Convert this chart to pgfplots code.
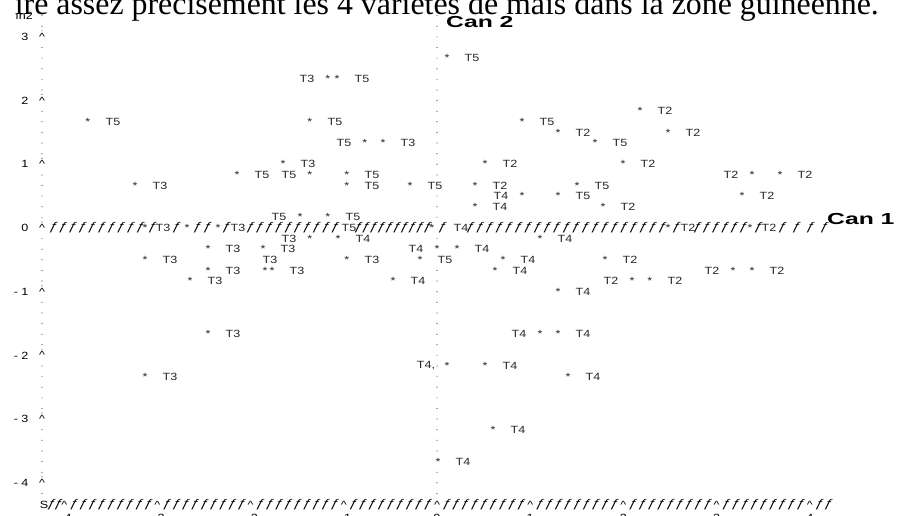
\documentclass[border=0pt]{standalone}
\usepackage{pgfplots}
\pgfplotsset{compat=1.18}
\usepackage{pgfplotstable}
\usepackage{fontspec}
\setmainfont{Liberation Serif}
\newfontfamily\labfam[FakeStretch=1.2]{Liberation Sans}
\newfontfamily\canfam[FakeStretch=1.55]{Liberation Sans}
\newfontfamily\ffam[FakeStretch=1.25,FakeSlant=0.25]{Liberation Sans}
\newcommand\lab{\labfam\fontsize{10.5}{12}\selectfont}
\newcommand\can{\canfam\bfseries\fontsize{16}{18}\selectfont}
\newcommand\fl{\ffam\fontsize{11.5}{12}\selectfont ƒ}

\pgfplotstableread{
x y lab
0.107 2.667 T5
-1.073 2.333 T5
2.178 1.833 T2
-3.745 1.667 T5
-1.363 1.667 T5
0.912 1.667 T5
1.298 1.5 T2
2.479 1.5 T2
-0.579 1.333 T3
1.695 1.333 T5
-1.652 1 T3
0.515 1 T2
1.996 1 T2
-2.146 0.833 T5
-0.966 0.833 T5
3.680 0.833 T2
-3.240 0.667 T3
-0.966 0.667 T5
-0.290 0.667 T5
0.408 0.667 T2
1.502 0.667 T5
1.298 0.5 T5
3.273 0.5 T2
0.408 0.333 T4
1.781 0.333 T2
-1.170 0.167 T5
-1.062 -0.167 T4
1.105 -0.167 T4
-2.457 -0.333 T3
-1.867 -0.333 T3
0.215 -0.333 T4
-3.133 -0.5 T3
-0.966 -0.5 T3
-0.182 -0.5 T5
0.708 -0.5 T4
1.803 -0.5 T2
-2.457 -0.667 T3
-1.770 -0.667 T3
0.622 -0.667 T4
3.380 -0.667 T2
-2.650 -0.833 T3
-0.472 -0.833 T4
2.285 -0.833 T2
1.298 -1 T4
-2.457 -1.667 T3
1.298 -1.667 T4
0.515 -2.167 T4
-3.133 -2.333 T3
1.406 -2.333 T4
0.601 -3.167 T4
0.011 -3.667 T4
}\Rpts

\pgfplotstableread{
x y lab
-1.170 2.333 T3
-0.773 1.333 T5
-1.363 0.833 T5
3.380 0.833 T2
0.912 0.5 T4
-1.470 0.167 T5
-1.363 -0.167 T3
0.000 -0.333 T4
3.176 -0.667 T2
2.092 -0.833 T2
1.105 -1.667 T4
0.107 -2.167 T4,
}\Lpts

\pgfplotstableread{
x y
-1.845 -0.667
-3.133 0
-2.682 0
-2.350 0
-0.054 0
2.479 0
3.358 0
}\Upts

\pgfplotstableread{
x y lab
-2.940 0 T3
-2.135 0 T3
-0.944 0 T5
0.258 0 T4
2.693 0 T2
3.562 0 T2
-1.792 -0.5 T3
}\Opts

\pgfplotsset{
  starplot/.style={only marks, mark=none, nodes near coords={*},
    nodes near coords align={anchor=center},
    every node near coord/.append style={font=\lab, inner sep=0pt, text=black!85}},
  labplot/.style={only marks, mark=none, point meta=explicit symbolic, nodes near coords,
    nodes near coords align={anchor=center},
    every node near coord/.append style={font=\lab, inner sep=0pt, text=black!85, xshift=#1}},
}

\begin{document}
\begin{tikzpicture}
\begin{axis}[
  anchor=south west, at={(41.8bp,10.9bp)},
  x=93.2bp, y=63.7bp,
  xmin=-4.24, xmax=4.2, ymin=-4.35, ymax=3.3,
  axis x line=bottom, axis y line=left,
  axis line style={draw=none},
  tick style={draw=none},
  xtick={-4,...,4}, xticklabels={- 4,- 3,- 2,- 1,0,1,2,3,4},
  ytick={-4,...,3}, yticklabels={- 4,- 3,- 2,- 1,0,1,2,3},
  xticklabel style={font=\lab, anchor=north, inner sep=0pt, yshift=-7bp},
  yticklabel style={font=\lab, anchor=east, inner sep=0pt, xshift=-11bp},
  clip=false,
]
\addplot[starplot] table[x=x,y=y] {\Rpts};
\addplot[starplot] table[x=x,y=y] {\Lpts};
\addplot[starplot] table[x=x,y=y] {\Upts};
\addplot[labplot=25bp] table[x=x,y=y,meta=lab] {\Rpts};
\addplot[labplot=-21bp] table[x=x,y=y,meta=lab] {\Lpts};
\addplot[labplot=0bp] table[x=x,y=y,meta=lab] {\Opts};
\end{axis}

% decorations of the line-printer plot, in pixel coordinates
\begin{scope}[shift={(0bp,516bp)}, x=1bp, y=-1bp]
  % title (cut at the top of the picture)
  \node[anchor=base east, inner sep=0pt] at (879,15)
    {\fontsize{32}{36}\selectfont ire assez précisément les 4 variétés de maïs dans la zone guinéenne.};
  \node[anchor=east, inner sep=0pt] at (33,16) {\lab ın2};
  \node[anchor=west, inner sep=0pt] at (446,22) {\can Can 2};
  \node[anchor=west, inner sep=0pt] at (827,219) {\can Can 1};
  % left axis: dots and carets
  \foreach \k in {-25,...,20}{
    \pgfmathtruncatemacro\m{mod(abs(\k),6)}
    \pgfmathsetmacro\yy{228-10.6167*\k}
    \ifnum\m=0
      \node[inner sep=0pt] at (42,\yy) {\lab\textasciicircum};
      \fill[black!70] (42,\yy-6) circle (0.6);
    \else
      \fill[black!70] (42,\yy) circle (0.6);
    \fi
  }
  % centre axis: dots
  \foreach \k in {-25,-24,-23,-21,-20,...,-4,-1,1,2,3,5,6,...,20}{
    \fill[black!70] (437,{228-10.6167*\k}) circle (0.6);
  }
  % horizontal zero line
  \foreach \i in {0,...,9}{\node[inner sep=0pt] at ({53+9.67*\i},228) {\fl};}
  \foreach \xx in {152,176,197,207,226,442,676,758,782,796,810,824}{\node[inner sep=0pt] at (\xx,228) {\fl};}
  \foreach \i in {0,...,9}{\node[inner sep=0pt] at ({250+9.44*\i},228) {\fl};}
  \foreach \i in {0,...,9}{\node[inner sep=0pt] at ({358+7.7*\i},228) {\fl};}
  \foreach \i in {0,...,20}{\node[inner sep=0pt] at ({470+9.6*\i},228) {\fl};}
  \foreach \i in {0,...,5}{\node[inner sep=0pt] at ({697+9.2*\i},228) {\fl};}
  % bottom axis line
  \node[inner sep=0pt] at (44,505) {\lab S};
  \node[inner sep=0pt] at (51,505) {\fl};
  \node[inner sep=0pt] at (58,505) {\fl};
  \foreach \t in {-4,...,4}{
    \node[inner sep=0pt] at ({437+93.2*\t},505) {\lab\textasciicircum};
  }
  \foreach \t in {-4,...,3}{
    \foreach \j in {1,...,9}{
      \node[inner sep=0pt] at ({437+93.2*\t+9.32*\j},505) {\fl};
    }
  }
  \node[inner sep=0pt] at (819,505) {\fl};
  \node[inner sep=0pt] at (828,505) {\fl};
\end{scope}
\pgfresetboundingbox
\useasboundingbox (0,0) rectangle (897bp,516bp);
\end{tikzpicture}
\end{document}
